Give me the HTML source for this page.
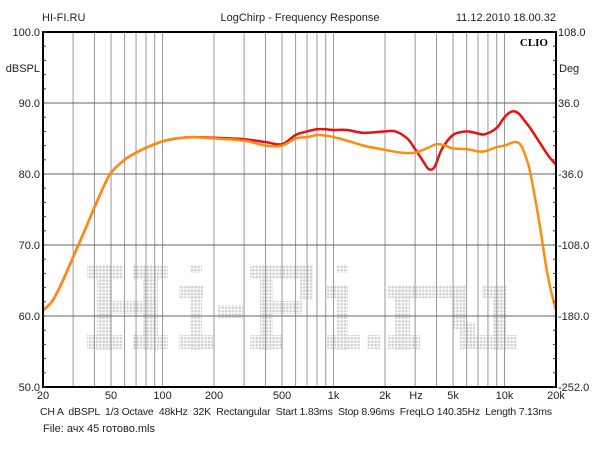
<!DOCTYPE html>
<html><head><meta charset="utf-8"><style>
html,body{margin:0;padding:0;background:#fff;}
svg{display:block;font-family:"Liberation Sans",sans-serif;}
</style></head><body>
<svg id="chart" width="600" height="450" viewBox="0 0 600 450" xmlns="http://www.w3.org/2000/svg">
<defs>
<pattern id="dots" width="3.4" height="3.4" patternUnits="userSpaceOnUse">
<circle cx="1.7" cy="1.7" r="1.35" fill="#d2d2d2"/>
</pattern>
</defs>
<rect width="600" height="450" fill="#fff"/>
<text x="42" y="21" font-size="11" fill="#222">HI-FI.RU</text>
<text x="300" y="21" font-size="11" fill="#222" text-anchor="middle">LogChirp - Frequency Response</text>
<text x="556" y="21" font-size="11" fill="#222" text-anchor="end">11.12.2010 18.00.32</text>
<g id="watermark"></g>
<g id="grid"></g>
<g id="series"></g>
<rect x="43" y="32" width="513" height="355" fill="none" stroke="#000" stroke-width="2"/>
<g id="ticks"></g>
<g id="labels" font-size="11" fill="#222"></g>
<text x="548" y="46" font-size="11" font-weight="bold" font-family="Liberation Serif,serif" text-anchor="end">CLIO</text>
<text x="40" y="72" font-size="11" fill="#222" text-anchor="end">dBSPL</text>
<text x="559" y="72" font-size="11" fill="#222">Deg</text>
<text x="416" y="399" font-size="11" fill="#222" text-anchor="middle">Hz</text>
<text x="40" y="415" font-size="10.5" fill="#222" textLength="512" lengthAdjust="spacing" xml:space="preserve">CH A  dBSPL  1/3 Octave  48kHz  32K  Rectangular  Start 1.83ms  Stop 8.96ms  FreqLO 140.35Hz  Length 7.13ms</text>
<text x="43" y="432" font-size="11" fill="#222" font-family="Liberation Sans,DejaVu Sans,sans-serif">File: ачх 45 готово.mls</text>
</svg>
<script>
const xTickLabels=["20","50","100","200","500","1k","2k","5k","10k","20k"];
const xTickValues=[20,50,100,200,500,1000,2000,5000,10000,20000];
const yTickValues=[50,60,70,80,90,100];
const yTickLabels=["50.0","60.0","70.0","80.0","90.0","100.0"];
const yRightLabels=["-252.0","-180.0","-108.0","-36.0","36.0","108.0"];
const gridFreqs=[30,40,50,60,70,80,90,100,200,300,400,500,600,700,800,900,1000,2000,3000,4000,5000,6000,7000,8000,9000,10000];
const orangeFreq=[20,22.5,25,27.5,30,35,40,45,50,60,70,80,90,100,120,150,200,300,400,500,600,700,800,900,1000,1200,1500,2000,2500,3000,3500,4000,4500,5000,6000,7000,7700,9000,10000,11500,12500,13500,14200,15500,16500,17500,18500,20000];
const orangeDb=[60.8,62,64,66.2,68.3,72,75.3,78.1,80.2,82,83,83.7,84.2,84.6,85,85.2,85,84.7,84,84,85,85.2,85.5,85.4,85.2,84.7,84,83.4,83,83,83.6,84.2,84,83.6,83.5,83.2,83.2,83.8,84,84.5,84,82,80,75,71,67,64,60.8];
const redFreq=[20,22.5,25,27.5,30,35,40,45,50,60,70,80,90,100,120,150,200,300,400,500,600,700,800,900,1000,1200,1500,2000,2300,2700,3000,3300,3600,3900,4300,5000,6000,7000,7700,9000,10000,11000,12000,13000,14000,16000,18000,20000];
const redDb=[60.8,62,64,66.2,68.3,72,75.3,78.1,80.2,82,83,83.7,84.2,84.6,85,85.2,85.1,84.9,84.5,84.2,85.5,86,86.3,86.3,86.2,86.2,85.8,86,86,85,83.5,82,80.7,81,83.5,85.5,86,85.7,85.6,86.5,88,88.8,88.6,87.6,86.6,84.5,82.6,81.3];
const wm=[[87,265,36,14],[97,265,15,85],[87,335,36,14],[133,265,35,14],[143,265,15,85],[133,335,35,14],[97,301,60,13],
[190,265,12,8],[179,285,24,13],[190,285,12,65],[179,335,34,14],[218,305,25,13],
[250,265,63,14],[260,265,13,85],[260,301,43,13],[300,265,13,35],[250,335,33,14],
[337,265,11,8],[327,285,21,13],[337,285,11,65],[327,335,33,14],[367,335,13,14],
[387,285,80,13],[395,285,15,65],[387,335,33,14],[452,285,15,45],[460,322,15,27],
[482,285,25,13],[493,285,14,65],[467,335,50,14]];
const NS="http://www.w3.org/2000/svg";
const X0=43,X1=556,Y0=32,Y1=387;
function xs(f){return X0+(X1-X0)*Math.log10(f/20)/3;}
function ys(d){return Y1-(d-50)*(Y1-Y0)/50;}
function mk(tag,attrs,parent){const e=document.createElementNS(NS,tag);for(const k in attrs)e.setAttribute(k,attrs[k]);parent.appendChild(e);return e;}
const W=document.getElementById('watermark');
wm.forEach(r=>{const e=mk('rect',{x:r[0],y:r[1],width:r[2],height:r[3],fill:'url(#dots)'},W);

});
const G=document.getElementById('grid');
gridFreqs.forEach(f=>{const e=mk('line',{x1:xs(f),x2:xs(f),y1:Y0,y2:Y1,stroke:'#999','stroke-width':1},G);

});
yTickValues.slice(1,-1).forEach(v=>{const e=mk('line',{x1:X0,x2:X1,y1:ys(v),y2:ys(v),stroke:'#666','stroke-width':1},G);

});
const T=document.getElementById('ticks');
for(let v=50;v<=100;v+=2){[[X0,X0+3],[X1-3,X1]].forEach(p=>{const e=mk('line',{x1:p[0],x2:p[1],y1:ys(v),y2:ys(v),stroke:'#444','stroke-width':1},T);

});}
function path(fr,db){const pts=fr.map((f,i)=>[xs(f),ys(db[i])]);let d='M'+pts[0][0]+','+pts[0][1];
for(let i=0;i<pts.length-1;i++){const p0=pts[i-1]||pts[i],p1=pts[i],p2=pts[i+1],p3=pts[i+2]||p2;
d+=' C'+(p1[0]+(p2[0]-p0[0])/6)+','+(p1[1]+(p2[1]-p0[1])/6)+' '+(p2[0]-(p3[0]-p1[0])/6)+','+(p2[1]-(p3[1]-p1[1])/6)+' '+p2[0]+','+p2[1];}
return d;}
const S=document.getElementById('series');
const r=mk('path',{d:path(redFreq,redDb),fill:'none',stroke:'#e81010','stroke-width':2.5,'stroke-linejoin':'round'},S);


const o=mk('path',{d:path(orangeFreq,orangeDb),fill:'none',stroke:'#ff8c10','stroke-width':2.5,'stroke-linejoin':'round'},S);


const L=document.getElementById('labels');
xTickValues.forEach((f,i)=>{const t=mk('text',{x:xs(f),y:399,'text-anchor':'middle'},L);t.textContent=xTickLabels[i];

});
yTickValues.forEach((v,i)=>{const t=mk('text',{x:40,y:ys(v)+4,'text-anchor':'end'},L);t.textContent=yTickLabels[i];


const t2=mk('text',{x:558,y:ys(v)+4},L);t2.textContent=yRightLabels[i];

});
</script>
</body></html>
